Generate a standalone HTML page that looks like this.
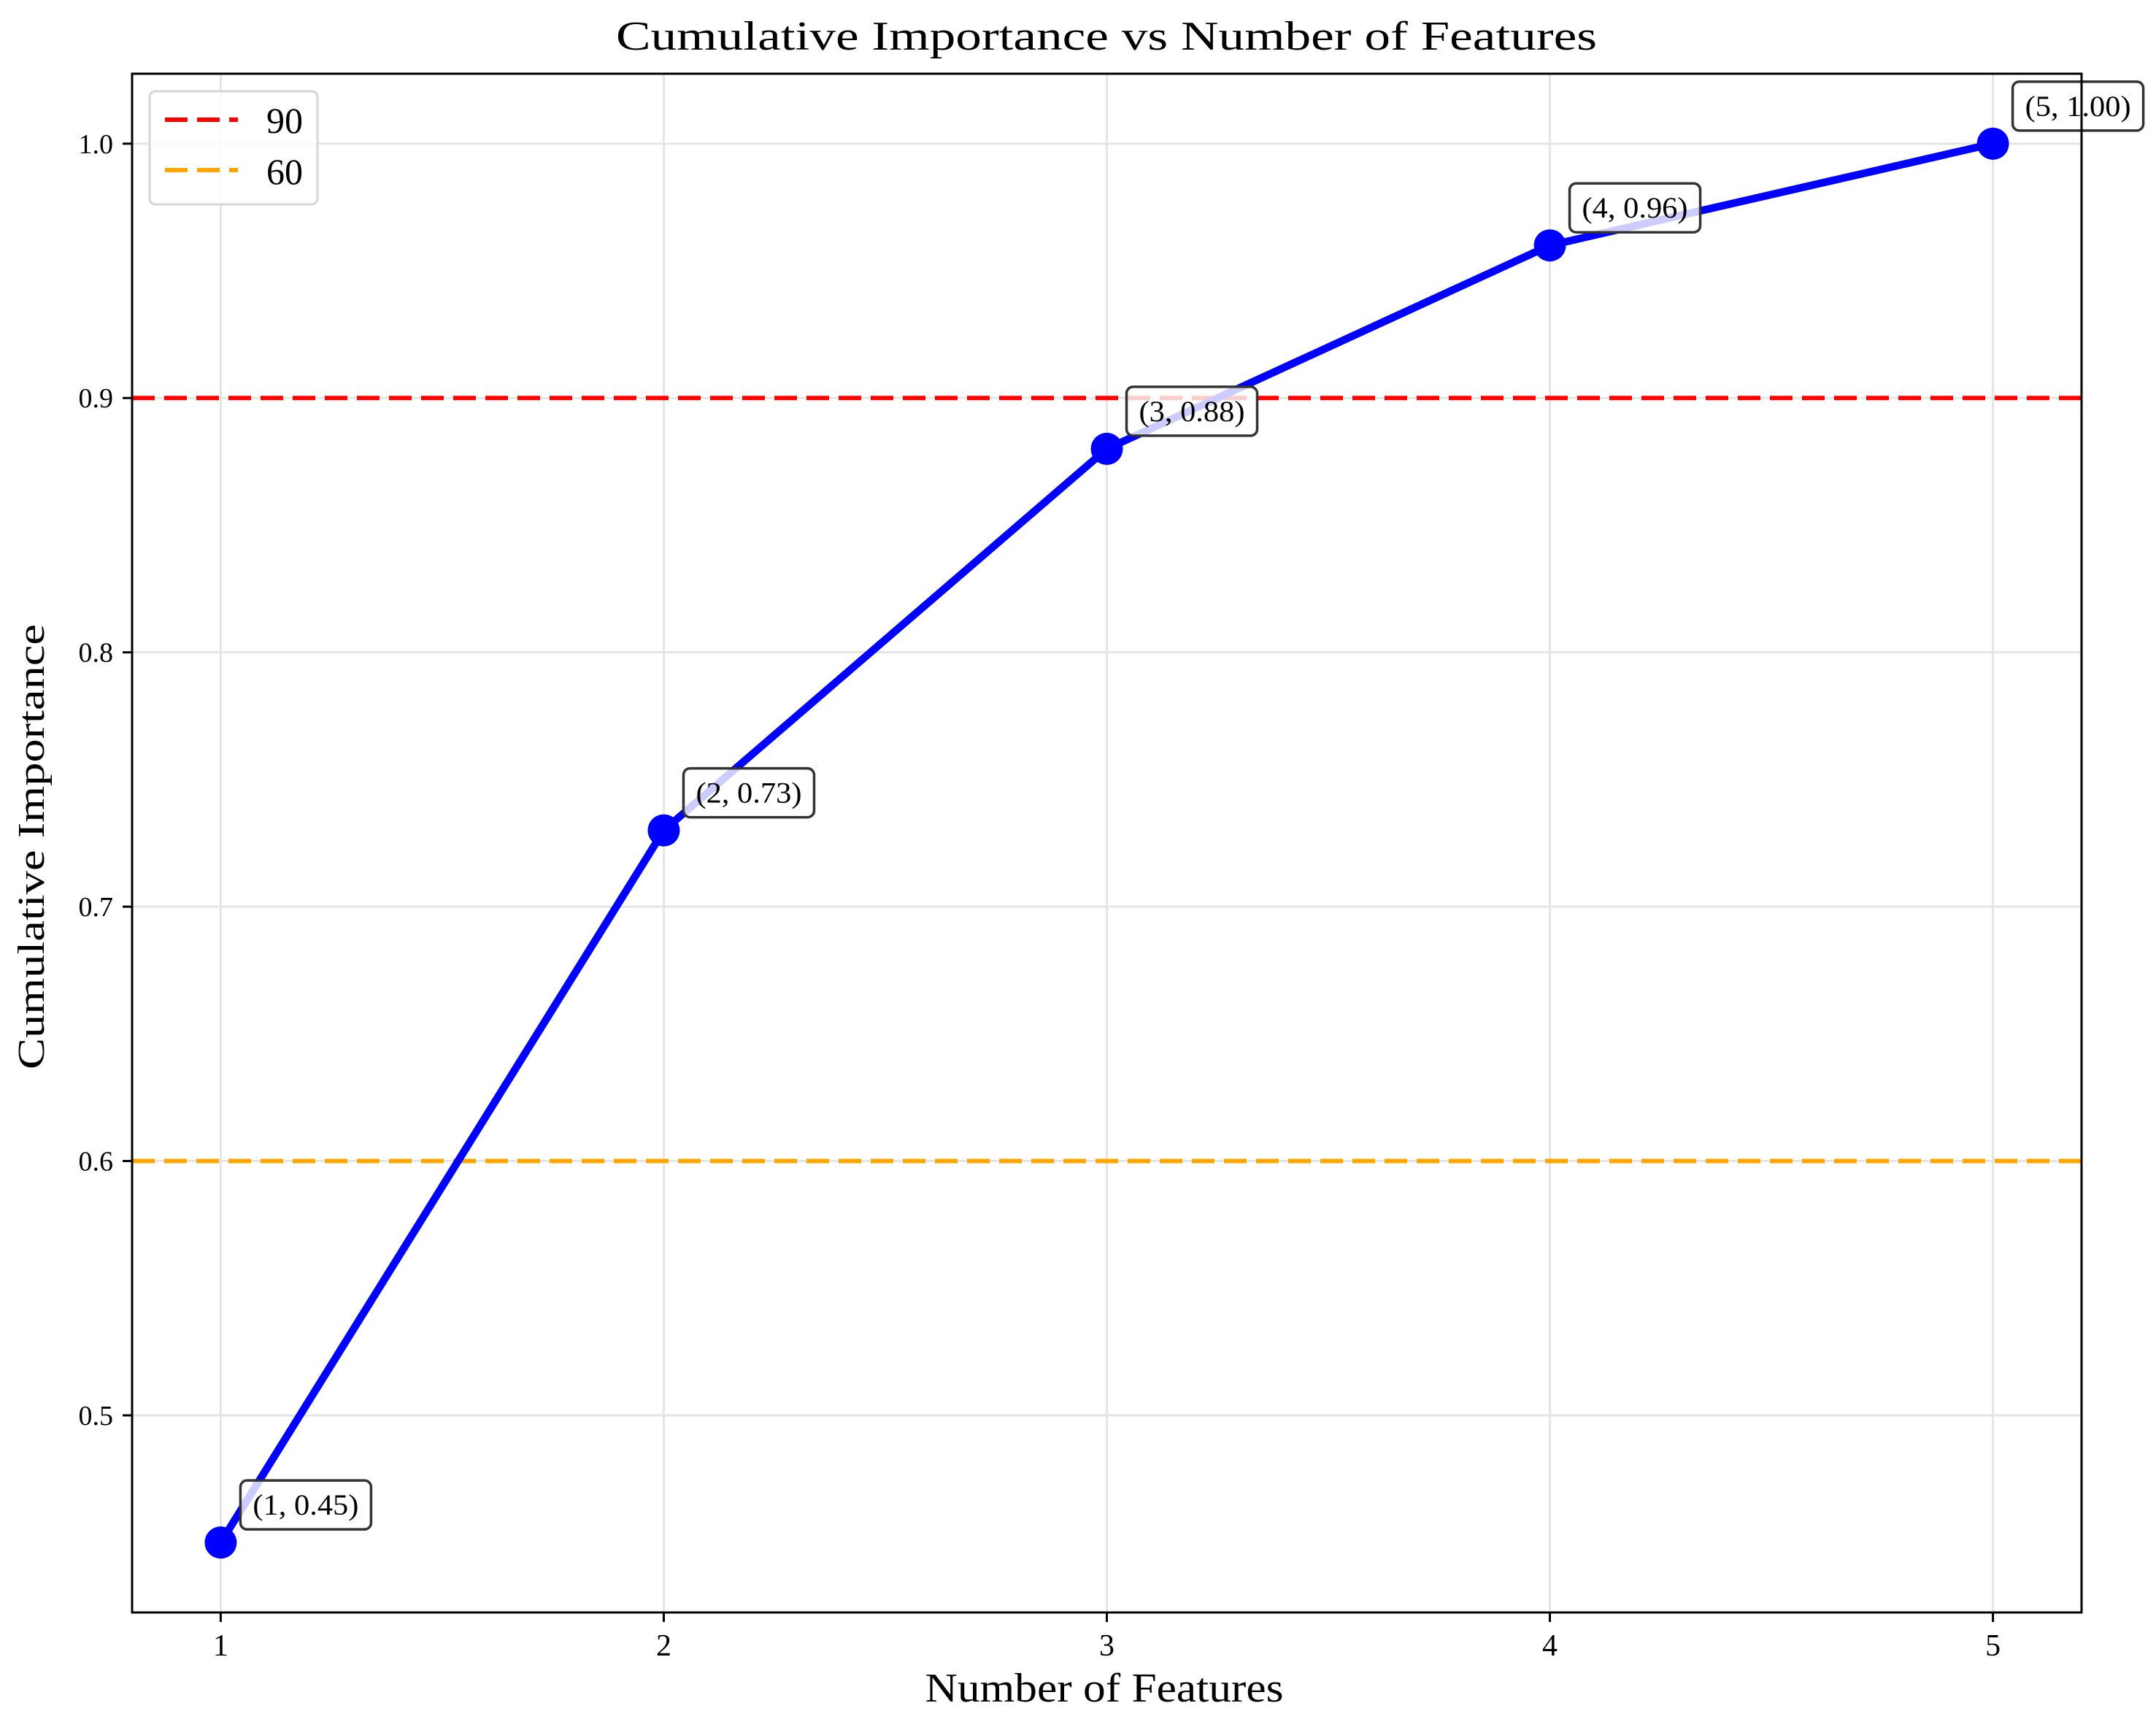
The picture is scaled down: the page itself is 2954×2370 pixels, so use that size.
<!DOCTYPE html>
<html><head><meta charset="utf-8"><style>
html,body{margin:0;padding:0;background:#fff;}
svg{display:block;font-family:"Liberation Serif",serif;}
</style></head><body>
<svg id="chart" width="2954" height="2370" viewBox="0 0 2954 2370" xmlns="http://www.w3.org/2000/svg">
<rect width="2954" height="2370" fill="#fff"/>
<g id="grid"></g>
<g id="refs"></g>
<g id="series"></g>
<g id="annots"></g>
<rect x="181" y="101" width="2671" height="2108" fill="none" stroke="#000" stroke-width="3"/>
<g id="ticks"></g>
<text x="1516" y="68" font-size="56" text-anchor="middle" textLength="1344" lengthAdjust="spacingAndGlyphs">Cumulative Importance vs Number of Features</text>
<text x="1513" y="2331" font-size="56" text-anchor="middle" textLength="491" lengthAdjust="spacingAndGlyphs">Number of Features</text>
<text x="0" y="0" font-size="52" text-anchor="middle" textLength="610" lengthAdjust="spacingAndGlyphs" transform="translate(60,1160) rotate(-90)">Cumulative Importance</text>
<g>
<rect x="205" y="125" width="230" height="155" rx="8" fill="#fff" fill-opacity="0.8" stroke="#d6d6d6" stroke-width="3"/>
<line x1="226" y1="164" x2="326" y2="164" stroke="#ff0000" stroke-width="6" stroke-dasharray="31,13"/>
<text x="365" y="182" font-size="50">90</text>
<line x1="226" y1="233" x2="326" y2="233" stroke="#ffa500" stroke-width="6" stroke-dasharray="31,13"/>
<text x="365" y="252" font-size="50">60</text>
</g>
</svg>
<script>
const xValues = [1, 2, 3, 4, 5];
const yValues = [0.45, 0.73, 0.88, 0.96, 1.00];
const xTicks = [1, 2, 3, 4, 5];
const yTicks = [0.5, 0.6, 0.7, 0.8, 0.9, 1.0];
const yTickLabels = ["0.5", "0.6", "0.7", "0.8", "0.9", "1.0"];
const refValues = [0.9, 0.6];
const refColors = ["#ff0000", "#ffa500"];
const refNames = ["90", "60"];

const L=181,R=2852,T=101,B=2209;
const xMin=0.8,xMax=5.2,yMin=0.4225,yMax=1.0275;
function sx(v){return L+(v-xMin)/(xMax-xMin)*(R-L);}
function sy(v){return B-(v-yMin)/(yMax-yMin)*(B-T);}
const NS="http://www.w3.org/2000/svg";
function mk(tag,attrs,parent){const e=document.createElementNS(NS,tag);for(const k in attrs)e.setAttribute(k,attrs[k]);parent.appendChild(e);return e;}
const grid=document.getElementById('grid'),ticks=document.getElementById('ticks');
xTicks.forEach(v=>{
  const g=mk('line',{x1:sx(v),x2:sx(v),y1:T,y2:B,stroke:'#e5e5e5','stroke-width':3},grid);
  
  
  const t=mk('line',{x1:sx(v),x2:sx(v),y1:B,y2:B+13,stroke:'#000','stroke-width':3},ticks);
  
  
  const l=mk('text',{x:sx(v),y:2268,'font-size':42,'text-anchor':'middle'},ticks);
  l.textContent=String(v);
  
  
});
yTicks.forEach((v,i)=>{
  const g=mk('line',{x1:L,x2:R,y1:sy(v),y2:sy(v),stroke:'#e5e5e5','stroke-width':3},grid);
  
  
  const t=mk('line',{x1:L-13,x2:L,y1:sy(v),y2:sy(v),stroke:'#000','stroke-width':3},ticks);
  
  
  const l=mk('text',{x:L-26,y:sy(v)+13,'font-size':38,'text-anchor':'end'},ticks);
  l.textContent=yTickLabels[i];
  
  
});
const refs=document.getElementById('refs');
refValues.forEach((v,i)=>{
  const r=mk('line',{x1:L,x2:R,y1:sy(v),y2:sy(v),stroke:refColors[i],'stroke-width':6,'stroke-dasharray':'31,13'},refs);
  
  
});
const series=document.getElementById('series');
const pts=xValues.map((x,i)=>sx(x)+','+sy(yValues[i])).join(' ');
const pl=mk('polyline',{points:pts,fill:'none',stroke:'#0000ff','stroke-width':10.5,'stroke-linejoin':'round'},series);


const an=document.getElementById('annots');
xValues.forEach((x,i)=>{
  const c=mk('circle',{cx:sx(x),cy:sy(yValues[i]),r:22,fill:'#0000ff'},series);
  
  
  const bx=sx(x)+27,by=sy(yValues[i])-85;
  const b=mk('rect',{x:bx,y:by,width:179,height:67,rx:9,fill:'#fff','fill-opacity':0.8,stroke:'#333','stroke-width':3.5},an);
  
  
  const t=mk('text',{x:bx+89.5,y:by+47,'font-size':40,'text-anchor':'middle',textLength:145,lengthAdjust:'spacingAndGlyphs'},an);
  t.textContent='('+x+', '+yValues[i].toFixed(2)+')';
  
  
});
</script>
</body></html>
